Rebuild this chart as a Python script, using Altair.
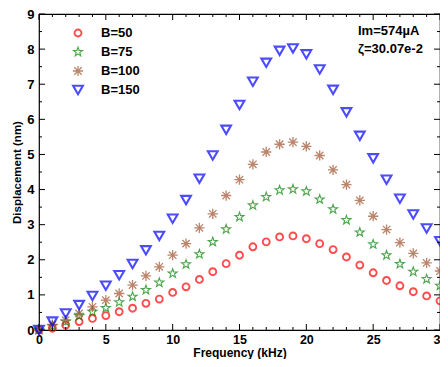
import altair as alt
import pandas as pd

freq = list(range(0, 31))
b50 = [0.0, 0.05, 0.14, 0.24, 0.33, 0.41, 0.52, 0.62, 0.76, 0.88, 1.07, 1.23, 1.44, 1.66, 1.89, 2.13,
       2.37, 2.51, 2.65, 2.68, 2.60, 2.46, 2.29, 2.08, 1.85, 1.63, 1.41, 1.26, 1.09, 0.97, 0.83]
b75 = [0.0, 0.12, 0.24, 0.40, 0.52, 0.63, 0.79, 0.95, 1.14, 1.35, 1.61, 1.87, 2.16, 2.51, 2.87, 3.22,
       3.55, 3.79, 3.98, 4.01, 3.95, 3.72, 3.44, 3.13, 2.78, 2.44, 2.13, 1.88, 1.66, 1.45, 1.26]
b100 = [0.0, 0.15, 0.28, 0.47, 0.66, 0.85, 1.04, 1.28, 1.54, 1.80, 2.13, 2.46, 2.91, 3.31, 3.83, 4.28,
        4.72, 5.07, 5.29, 5.35, 5.23, 4.97, 4.56, 4.14, 3.69, 3.24, 2.86, 2.49, 2.18, 1.91, 1.68]
b150 = [0.0, 0.24, 0.47, 0.71, 0.97, 1.26, 1.56, 1.88, 2.27, 2.68, 3.17, 3.70, 4.31, 4.97, 5.70, 6.41,
        7.07, 7.61, 7.95, 8.02, 7.85, 7.42, 6.84, 6.20, 5.53, 4.89, 4.28, 3.74, 3.29, 2.89, 2.53]

series_names = ["B=50", "B=75", "B=100", "B=150"]
series_values = [b50, b75, b100, b150]
series_colors = ["#ff0000", "#008000", "#a0522d", "#0000ff"]
series_shapes = [
    "circle",
    "M0,-1L0.235,-0.324L0.951,-0.309L0.38,0.124L0.588,0.809L0,0.4L-0.588,0.809L-0.38,0.124"
    "L-0.951,-0.309L-0.235,-0.324Z",
    "M-1,0L1,0M0,-1L0,1M-0.72,-0.72L0.72,0.72M-0.72,0.72L0.72,-0.72",
    "triangle-down",
]
series_sizes = [48, 90, 105, 95]
series_strokes = [1.9, 1.1, 1.3, 2.1]
annotation = ["Im=574\u00b5A", "\u03b6=30.07e-2"]

x_ticks = list(range(0, 31))
y_ticks = [i * 0.5 for i in range(19)]
x_labels = [0, 5, 10, 15, 20, 25, 30]
y_labels = list(range(0, 10))

rows = []
for name, vals in zip(series_names, series_values):
    for f, v in zip(freq, vals):
        rows.append({"Frequency": f, "Displacement": v, "Series": name})
df = pd.DataFrame(rows)

W, H = 401, 316
FONT = "Liberation Sans"
xs = alt.Scale(domain=[0, 30], nice=False, zero=False)
ys = alt.Scale(domain=[0, 9], nice=False, zero=False)

x_axis = alt.Axis(values=x_labels, title="Frequency  (kHz)", ticks=False, domain=False, grid=False,
                  labelFont=FONT, labelFontWeight="bold", labelFontSize=12.5, labelPadding=3,
                  labelColor="black", titleFont=FONT, titleFontWeight="bold", titleFontSize=12,
                  titleColor="black", titlePadding=2, labelFlush=False)
y_axis = alt.Axis(values=y_labels, title="Displacement  (nm)", ticks=False, domain=False, grid=False,
                  labelFont=FONT, labelFontWeight="bold", labelFontSize=13, labelPadding=5,
                  labelColor="black", titleFont=FONT, titleFontWeight="bold", titleFontSize=11.5,
                  titleColor="black", titlePadding=4, labelFlush=False)

color_enc = alt.Color("Series:N", scale=alt.Scale(domain=series_names, range=series_colors), legend=None)
shape_enc = alt.Shape("Series:N", scale=alt.Scale(domain=series_names, range=series_shapes), legend=None)
size_enc = alt.Size("Series:N", scale=alt.Scale(type="ordinal", domain=series_names, range=series_sizes),
                    legend=None)
sw_enc = alt.StrokeWidth("Series:N",
                         scale=alt.Scale(type="ordinal", domain=series_names, range=series_strokes),
                         legend=None)

points = alt.Chart(df).mark_point(filled=False).encode(
    x=alt.X("Frequency:Q", scale=xs, axis=x_axis),
    y=alt.Y("Displacement:Q", scale=ys, axis=y_axis),
    color=color_enc, shape=shape_enc, size=size_enc, strokeWidth=sw_enc,
)

xt = pd.DataFrame({"Frequency": x_ticks})
yt = pd.DataFrame({"Displacement": y_ticks})


def xtick(major, top):
    length = 6 if major else 3
    cond = "datum.Frequency % 5 == 0" if major else "datum.Frequency % 5 != 0"
    y0 = 0 if top else H
    y1 = length if top else H - length
    return alt.Chart(xt).transform_filter(cond).mark_rule(color="black", strokeWidth=1).encode(
        x=alt.X("Frequency:Q", scale=xs, axis=x_axis), y=alt.value(y0), y2=alt.value(y1))


def ytick(major, right):
    length = 6 if major else 3
    cond = "datum.Displacement % 1 == 0" if major else "datum.Displacement % 1 != 0"
    x0 = W if right else 0
    x1 = W - length if right else length
    return alt.Chart(yt).transform_filter(cond).mark_rule(color="black", strokeWidth=1).encode(
        y=alt.Y("Displacement:Q", scale=ys, axis=None), x=alt.value(x0), x2=alt.value(x1))


ticks = [xtick(m, t) for m in (True, False) for t in (True, False)] + \
        [ytick(m, r) for m in (True, False) for r in (True, False)]

# legend (top-left, inside the frame)
leg_df = pd.DataFrame({"Series": series_names})
leg_y = alt.Y("Series:N", scale=alt.Scale(domain=series_names, range=[19, 76], padding=0), axis=None)
leg_sym = alt.Chart(leg_df).mark_point(filled=False).encode(
    x=alt.value(39), y=leg_y, color=color_enc, shape=shape_enc, size=size_enc, strokeWidth=sw_enc)
leg_txt = alt.Chart(leg_df).mark_text(
    align="left", baseline="middle", font=FONT, fontWeight="bold", fontSize=13, color="black").encode(
    x=alt.value(62), y=leg_y, text="Series:N")

note = alt.Chart(pd.DataFrame({"txt": ["\n".join(annotation)]})).mark_text(
    align="left", baseline="top", font=FONT, fontWeight="bold", fontSize=13, lineHeight=18,
    lineBreak="\n", color="black").encode(
    x=alt.value(319), y=alt.value(11), text="txt:N")

chart = alt.layer(points, *ticks, leg_sym, leg_txt, note).resolve_scale(y="independent").properties(
    width=W, height=H,
    background="white",
    autosize=alt.AutoSizeParams(type="none"),
    padding={"left": 31, "top": 6, "right": 0, "bottom": 29},
).configure_view(stroke="black", strokeWidth=1.2)

chart.save("out.html", embed_options={"renderer": "svg", "actions": False})
